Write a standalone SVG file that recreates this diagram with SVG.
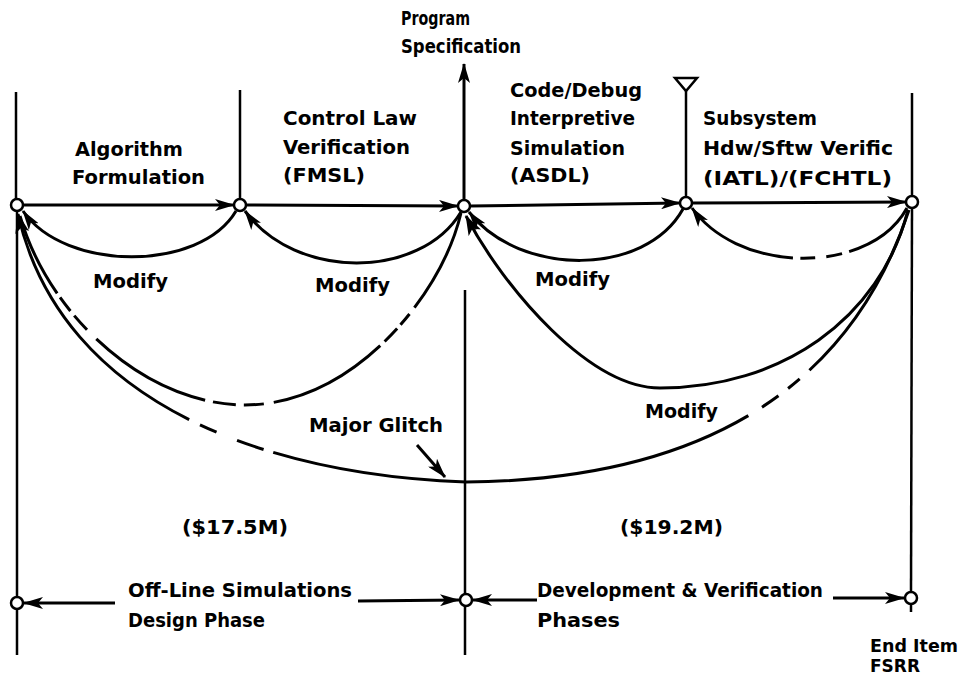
<svg xmlns="http://www.w3.org/2000/svg" width="979" height="678" viewBox="0 0 979 678">
<style>
.ln{fill:none;stroke:#000;stroke-width:3;stroke-linecap:butt}
.vl{fill:none;stroke:#000;stroke-width:2.5}
.nd{fill:#fff;stroke:#000;stroke-width:2.5}
text{font-family:'Liberation Sans Narrow','DejaVu Sans Condensed','Liberation Sans',sans-serif;font-weight:bold;font-size:20px;fill:#000}
.sm{font-size:18px}
</style>
<defs>
<marker id="arr" viewBox="0 0 20 12" refX="19" refY="6" markerWidth="20" markerHeight="12" markerUnits="userSpaceOnUse" orient="auto">
<path d="M0,0 L20,6 L0,12 L5,6 z" fill="#000"/>
</marker>
<marker id="arrL" viewBox="0 0 20 14" refX="19" refY="7" markerWidth="20" markerHeight="14" markerUnits="userSpaceOnUse" orient="auto">
<path d="M0,0 L20,7 L0,14 L5,7 z" fill="#000"/>
</marker>
</defs>

<g id="verticals">
<path class="vl" d="M16,92 L16,199"/>
<path class="vl" d="M17,211 L17,655"/>
<path class="vl" d="M240,90 L240,199"/>
<path class="vl" d="M465,290 L465,655"/>
<path class="vl" d="M686,91 L686,197"/>
<path class="vl" d="M912,93 L912,196"/>
<path class="vl" d="M912,208 L911,592"/>
<path class="vl" d="M911,604 L911,612"/>
</g>

<g id="connectors">
<path class="ln" d="M464,199 L464,64" marker-end="url(#arr)"/>
<path class="ln" d="M23,205 L234,205" marker-end="url(#arr)"/>
<path class="ln" d="M246,205 L458,206" marker-end="url(#arr)"/>
<path class="ln" d="M470,206 L680,203" marker-end="url(#arr)"/>
<path class="ln" d="M692,203 L906,202" marker-end="url(#arr)"/>
<path class="ln" d="M236,211 C200,272 65,272 23,211" marker-end="url(#arr)"/>
<path class="ln" d="M461,212 C420,280 295,280 245,211" marker-end="url(#arr)"/>
<path class="ln" d="M683,209 C645,277 520,277 469,212" marker-end="url(#arr)"/>
<path class="ln" d="M907,208 C870,275 740,275 692,208" pathLength="100" stroke-dasharray="30 3 6.5 4.5 6 3 100" marker-end="url(#arr)"/>
<path class="ln" d="M908,210 C880,320 780,388 660,388 C590,388 505,290 466,216" marker-end="url(#arrL)"/>
<path class="ln" d="M461,213 C440,300 350,405 245,405 C150,405 50,320 20,216" pathLength="620" stroke-dasharray="106 8 14 5 18 6 122 10 20 8 23 8 126 13 19 6 17 5 200"/>
<path class="ln" d="M909,210 C850,390 700,480 466,482 C260,475 60,400 18,214" pathLength="1119" stroke-dasharray="190 13 15 12 20 16 487 10 28 22 18 12 500" marker-end="url(#arrL)"/>
<path class="ln" d="M417,445 L445,477" marker-end="url(#arr)"/>
<path class="ln" d="M115,603 L24,603" marker-end="url(#arr)"/>
<path class="ln" d="M358,601 L459,600" marker-end="url(#arr)"/>
<path class="ln" d="M537,600 L473,600" marker-end="url(#arr)"/>
<path class="ln" d="M833,598 L904,598" marker-end="url(#arr)"/>
</g>

<g id="n0"><circle class="nd" cx="17" cy="205" r="6"/></g>
<g id="n1"><circle class="nd" cx="240" cy="205" r="6"/></g>
<g id="n2"><circle class="nd" cx="464" cy="206" r="6"/></g>
<g id="n3"><circle class="nd" cx="686" cy="203" r="6"/><path class="nd" d="M675,78 L697,78 L686,91 z"/></g>
<g id="n4"><circle class="nd" cx="912" cy="202" r="6"/></g>
<g id="b0"><circle class="nd" cx="17" cy="603" r="6"/></g>
<g id="b1"><circle class="nd" cx="466" cy="600" r="6"/></g>
<g id="b2"><circle class="nd" cx="911" cy="598" r="6"/></g>

<g id="labels">
<text x="401" y="25" textLength="69" lengthAdjust="spacingAndGlyphs">Program</text>
<text x="401" y="53" textLength="120" lengthAdjust="spacingAndGlyphs">Specification</text>
<text x="75" y="156" textLength="108" lengthAdjust="spacingAndGlyphs">Algorithm</text>
<text x="72" y="184" textLength="133" lengthAdjust="spacingAndGlyphs">Formulation</text>
<text x="283" y="125" textLength="134" lengthAdjust="spacingAndGlyphs">Control Law</text>
<text x="283" y="154" textLength="127" lengthAdjust="spacingAndGlyphs">Verification</text>
<text x="283" y="182" textLength="82" lengthAdjust="spacingAndGlyphs">(FMSL)</text>
<text x="510" y="97" textLength="132" lengthAdjust="spacingAndGlyphs">Code/Debug</text>
<text x="510" y="125" textLength="125" lengthAdjust="spacingAndGlyphs">Interpretive</text>
<text x="510" y="155" textLength="115" lengthAdjust="spacingAndGlyphs">Simulation</text>
<text x="510" y="182" textLength="80" lengthAdjust="spacingAndGlyphs">(ASDL)</text>
<text x="703" y="125" textLength="114" lengthAdjust="spacingAndGlyphs">Subsystem</text>
<text x="703" y="155" textLength="190" lengthAdjust="spacingAndGlyphs">Hdw/Sftw Verific</text>
<text x="703" y="185" textLength="189" lengthAdjust="spacingAndGlyphs">(IATL)/(FCHTL)</text>
<text x="93" y="288" textLength="75" lengthAdjust="spacingAndGlyphs">Modify</text>
<text x="315" y="292" textLength="75" lengthAdjust="spacingAndGlyphs">Modify</text>
<text x="535" y="286" textLength="75" lengthAdjust="spacingAndGlyphs">Modify</text>
<text x="645" y="418" textLength="73" lengthAdjust="spacingAndGlyphs">Modify</text>
<text x="309" y="432" textLength="134" lengthAdjust="spacingAndGlyphs">Major Glitch</text>
<text x="182" y="534" textLength="106" lengthAdjust="spacingAndGlyphs">($17.5M)</text>
<text x="620" y="534" textLength="103" lengthAdjust="spacingAndGlyphs">($19.2M)</text>
<text x="128" y="597" textLength="224" lengthAdjust="spacingAndGlyphs">Off-Line Simulations</text>
<text x="128" y="627" textLength="137" lengthAdjust="spacingAndGlyphs">Design Phase</text>
<text x="537" y="597" textLength="286" lengthAdjust="spacingAndGlyphs">Development &amp; Verification</text>
<text x="537" y="627" textLength="83" lengthAdjust="spacingAndGlyphs">Phases</text>
<text class="sm" x="870" y="652" textLength="88" lengthAdjust="spacingAndGlyphs">End Item</text>
<text class="sm" x="870" y="672" textLength="50" lengthAdjust="spacingAndGlyphs">FSRR</text>
</g>
</svg>
